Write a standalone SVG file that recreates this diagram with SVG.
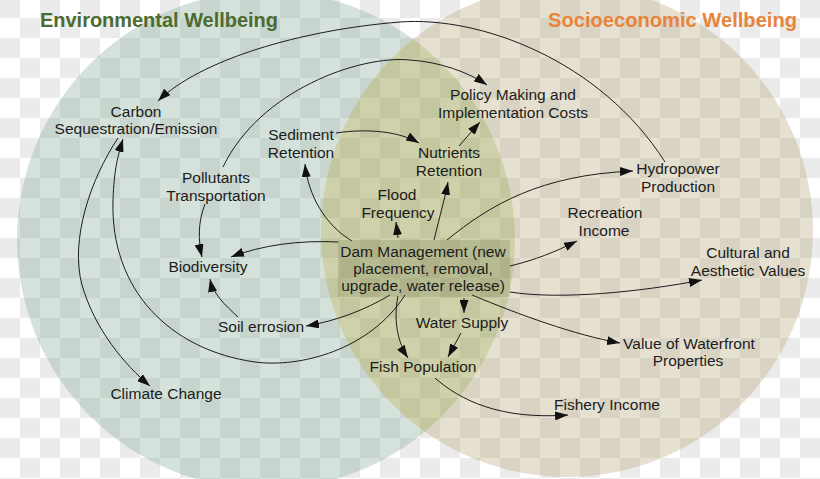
<svg xmlns="http://www.w3.org/2000/svg" width="820" height="479" viewBox="0 0 820 479">
<style>
.lbl{font-family:"Liberation Sans",Arial,sans-serif;font-size:15.5px;fill:#1c1c1c;text-anchor:middle}
.ttl{font-family:"Liberation Sans",Arial,sans-serif;font-size:20px;font-weight:bold}
.c{fill:none;stroke:#1c1c1c;stroke-width:1;marker-end:url(#ah)}
</style>
<defs>
<pattern id="chk" patternUnits="userSpaceOnUse" x="0" y="-2" width="40" height="40">
<rect width="40" height="40" fill="#ffffff"/>
<rect width="20" height="20" fill="#ebebeb"/>
<rect x="20" y="20" width="20" height="20" fill="#ebebeb"/>
</pattern>
<marker id="ah" markerUnits="userSpaceOnUse" markerWidth="14" markerHeight="9" refX="13" refY="4.5" orient="auto">
<path d="M0,0 L13,4.5 L0,9 z" fill="#111"/>
</marker>
<mask id="notB"><rect width="820" height="479" fill="#fff"/><circle cx="567" cy="231" r="246" fill="#000"/></mask>
<mask id="notG"><rect width="820" height="479" fill="#fff"/><circle cx="266" cy="240" r="249" fill="#000"/></mask>
<clipPath id="inG"><circle cx="266" cy="240" r="249"/></clipPath>
</defs>
<rect width="820" height="479" fill="url(#chk)"/>
<g id="circles">
<circle cx="266" cy="240" r="249" fill="#87ac98" fill-opacity="0.35" mask="url(#notB)"/>
<circle cx="567" cy="231" r="246" fill="#b8a67c" fill-opacity="0.35" mask="url(#notG)"/>
<circle cx="567" cy="231" r="246" fill="#939a40" fill-opacity="0.45" clip-path="url(#inG)"/>
</g>
<text class="ttl" x="40" y="27" fill="#4d6b2f" textLength="238" lengthAdjust="spacingAndGlyphs">Environmental Wellbeing</text>
<text class="ttl" x="548" y="27" fill="#e8843a" textLength="249" lengthAdjust="spacingAndGlyphs">Socioeconomic Wellbeing</text>
<g id="connectors">
<path class="c" d="M665,162 C600,60 480,16 400,22 C300,30 200,60 158,101"/>
<path class="c" d="M223,167 C260,90 360,55 410,60 C440,62 468,72 487,85"/>
<path class="c" d="M205,204 C198,222 198,240 202,257"/>
<path class="c" d="M338,242 C300,240 262,245 231,257"/>
<path class="c" d="M238,317 C225,305 213,294 210,279"/>
<path class="c" d="M390,295 C365,310 336,321 306,326"/>
<path class="c" d="M405,295 C370,350 300,368 255,362 C170,350 110,290 113,200 C114,170 118,155 123,139"/>
<path class="c" d="M118,138 C90,180 70,240 82,285 C95,330 125,365 150,386"/>
<path class="c" d="M336,133 C370,128 400,132 419,143"/>
<path class="c" d="M352,241 C325,225 308,195 305,164"/>
<path class="c" d="M398,238 L396,222"/>
<path class="c" d="M434,240 C440,215 445,198 448,182"/>
<path class="c" d="M459,146 L480,122"/>
<path class="c" d="M447,240 C490,205 540,175 633,171"/>
<path class="c" d="M510,266 C535,260 555,252 577,241"/>
<path class="c" d="M510,292 C560,300 640,292 702,280"/>
<path class="c" d="M472,295 C520,315 575,335 620,343"/>
<path class="c" d="M464,298 L464,313"/>
<path class="c" d="M461,333 L448,357"/>
<path class="c" d="M398,296 C393,320 398,343 408,358"/>
<path class="c" d="M435,378 C460,400 500,420 568,415"/>
</g>
<g id="dam">
<rect x="338" y="240" width="172" height="57" fill="#6b6d40" fill-opacity="0.22"/>
<text class="lbl" x="423" y="256.5">Dam Management (new</text>
<text class="lbl" x="423" y="273.5">placement, removal,</text>
<text class="lbl" x="423" y="290.5">upgrade, water release)</text>
</g>
<g id="carbon"><text class="lbl" x="136" y="117">Carbon</text><text class="lbl" x="136" y="134">Sequestration/Emission</text></g>
<g id="sediment"><text class="lbl" x="301" y="140">Sediment</text><text class="lbl" x="301" y="157.5">Retention</text></g>
<g id="pollutants"><text class="lbl" x="216" y="183">Pollutants</text><text class="lbl" x="216" y="201">Transportation</text></g>
<g id="policy"><text class="lbl" x="513" y="100">Policy Making and</text><text class="lbl" x="513" y="117.5">Implementation Costs</text></g>
<g id="nutrients"><text class="lbl" x="449" y="158">Nutrients</text><text class="lbl" x="449" y="176">Retention</text></g>
<g id="hydropower"><text class="lbl" x="678" y="174">Hydropower</text><text class="lbl" x="678" y="192">Production</text></g>
<g id="flood"><text class="lbl" x="397" y="200">Flood</text><text class="lbl" x="398" y="218">Frequency</text></g>
<g id="recreation"><text class="lbl" x="605" y="218">Recreation</text><text class="lbl" x="604" y="236">Income</text></g>
<g id="cultural"><text class="lbl" x="748" y="258">Cultural and</text><text class="lbl" x="748" y="276">Aesthetic Values</text></g>
<g id="biodiversity"><text class="lbl" x="208" y="272">Biodiversity</text></g>
<g id="soil"><text class="lbl" x="261" y="332">Soil errosion</text></g>
<g id="water"><text class="lbl" x="462" y="328">Water Supply</text></g>
<g id="fish"><text class="lbl" x="423" y="372">Fish Population</text></g>
<g id="climate"><text class="lbl" x="166" y="399">Climate Change</text></g>
<g id="waterfront"><text class="lbl" x="689" y="349">Value of Waterfront</text><text class="lbl" x="688" y="366">Properties</text></g>
<g id="fishery"><text class="lbl" x="607" y="410">Fishery Income</text></g>
</svg>
